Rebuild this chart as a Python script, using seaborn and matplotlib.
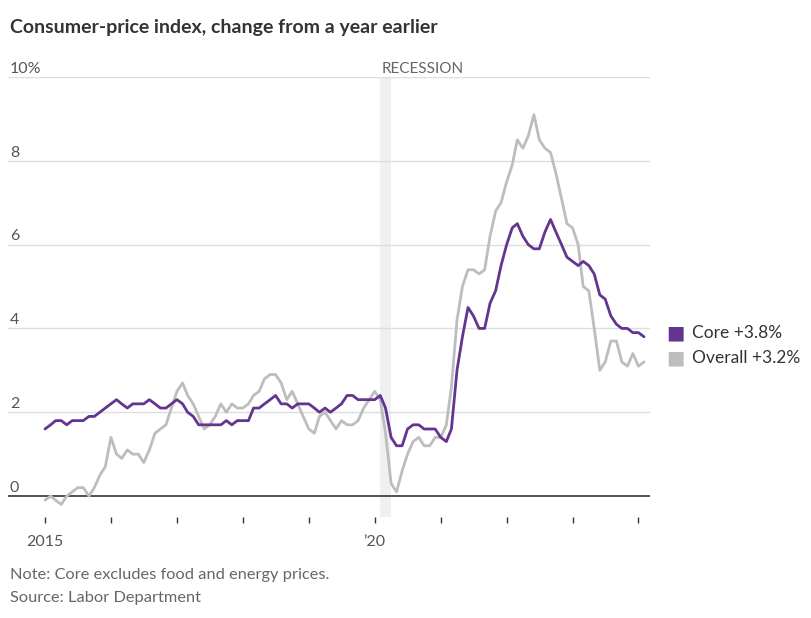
import pandas as pd
import matplotlib
matplotlib.use("Agg")
import matplotlib.pyplot as plt
import matplotlib.ticker as mticker
import seaborn as sns

# monthly year-over-year change, Jan 2015 - Feb 2024
core = [
    1.6, 1.7, 1.8, 1.8, 1.7, 1.8, 1.8, 1.8, 1.9, 1.9, 2.0, 2.1,
    2.2, 2.3, 2.2, 2.1, 2.2, 2.2, 2.2, 2.3, 2.2, 2.1, 2.1, 2.2,
    2.3, 2.2, 2.0, 1.9, 1.7, 1.7, 1.7, 1.7, 1.7, 1.8, 1.7, 1.8,
    1.8, 1.8, 2.1, 2.1, 2.2, 2.3, 2.4, 2.2, 2.2, 2.1, 2.2, 2.2,
    2.2, 2.1, 2.0, 2.1, 2.0, 2.1, 2.2, 2.4, 2.4, 2.3, 2.3, 2.3,
    2.3, 2.4, 2.1, 1.4, 1.2, 1.2, 1.6, 1.7, 1.7, 1.6, 1.6, 1.6,
    1.4, 1.3, 1.6, 3.0, 3.8, 4.5, 4.3, 4.0, 4.0, 4.6, 4.9, 5.5,
    6.0, 6.4, 6.5, 6.2, 6.0, 5.9, 5.9, 6.3, 6.6, 6.3, 6.0, 5.7,
    5.6, 5.5, 5.6, 5.5, 5.3, 4.8, 4.7, 4.3, 4.1, 4.0, 4.0, 3.9,
    3.9, 3.8,
]
overall = [
    -0.1, 0.0, -0.1, -0.2, 0.0, 0.1, 0.2, 0.2, 0.0, 0.2, 0.5, 0.7,
    1.4, 1.0, 0.9, 1.1, 1.0, 1.0, 0.8, 1.1, 1.5, 1.6, 1.7, 2.1,
    2.5, 2.7, 2.4, 2.2, 1.9, 1.6, 1.7, 1.9, 2.2, 2.0, 2.2, 2.1,
    2.1, 2.2, 2.4, 2.5, 2.8, 2.9, 2.9, 2.7, 2.3, 2.5, 2.2, 1.9,
    1.6, 1.5, 1.9, 2.0, 1.8, 1.6, 1.8, 1.7, 1.7, 1.8, 2.1, 2.3,
    2.5, 2.3, 1.5, 0.3, 0.1, 0.6, 1.0, 1.3, 1.4, 1.2, 1.2, 1.4,
    1.4, 1.7, 2.6, 4.2, 5.0, 5.4, 5.4, 5.3, 5.4, 6.2, 6.8, 7.0,
    7.5, 7.9, 8.5, 8.3, 8.6, 9.1, 8.5, 8.3, 8.2, 7.7, 7.1, 6.5,
    6.4, 6.0, 5.0, 4.9, 4.0, 3.0, 3.2, 3.7, 3.7, 3.2, 3.1, 3.4,
    3.1, 3.2,
]
months = pd.date_range("2015-01-01", periods=len(core), freq="MS")
year_ticks = pd.date_range("2015-01-01", "2024-01-01", freq="YS")
year_labels = ["2015", "", "", "", "", "\u201920", "", "", "", ""]
y_ticks = [0, 2, 4, 6, 8, 10]
y_labels = ["0", "2", "4", "6", "8", "10%"]
legend_labels = ["Core +3.8%", "Overall +3.2%"]

purple = "#633590"
grey = "#bdbdbd"
text_col = "#555555"

df = pd.DataFrame({"month": months, "Core": core, "Overall": overall})
long = df.melt(id_vars="month", var_name="series", value_name="pct")

sns.set_style("white")
plt.rcParams["font.family"] = ["Lato", "DejaVu Sans"]

fig = plt.figure(figsize=(8.12, 6.18), dpi=100)
ax = fig.add_axes([8 / 812, 1 - 517 / 618, 642 / 812, 440 / 618])

ax.axvspan(pd.Timestamp("2020-02-01"), pd.Timestamp("2020-04-01"),
           color="#eef0f4", lw=0, zorder=0)

for t in y_ticks[1:]:
    ax.axhline(t, color="#dddddd", lw=1, zorder=1)
ax.axhline(0, color="#333333", lw=1.2, zorder=3)

sns.lineplot(data=long, x="month", y="pct", hue="series",
             palette={"Core": purple, "Overall": grey},
             hue_order=["Overall", "Core"],
             lw=2.0, legend=False, ax=ax, zorder=4)

ax.set_xlim(pd.Timestamp("2014-06-10"), pd.Timestamp("2024-03-05"))
ax.set_ylim(-0.5, 10)
ax.set_yticks([])
ax.set_xlabel("")
ax.set_ylabel("")
for s in ax.spines.values():
    s.set_visible(False)

ax.set_xticks(year_ticks)
ax.xaxis.set_major_formatter(mticker.FixedFormatter(year_labels))
ax.tick_params(axis="x", bottom=True, length=4, width=1, color="#333333",
               labelsize=11.5, labelcolor=text_col, pad=9)

for t, lab in zip(y_ticks, y_labels):
    ax.text(0.003, t + 0.1, lab, transform=ax.get_yaxis_transform(),
            ha="left", va="baseline", fontsize=11.5, color=text_col)

ax.text(pd.Timestamp("2020-02-06"), 10.1, "RECESSION", ha="left", va="baseline",
        fontsize=11, color="#666666")

fig.text(10 / 812, 1 - 27 / 618, "Consumer-price index, change from a year earlier",
         ha="left", va="center", fontsize=14, fontweight="bold", color="#333333")

# legend on the right
for i, (lab, col) in enumerate(zip(legend_labels, [purple, grey])):
    yy = 1 - (333 + 25 * i) / 618
    fig.text(666 / 812, yy, "\u25A0", ha="left", va="center", fontsize=14, color=col,
             family=["DejaVu Sans"])
    fig.text(692 / 812, yy, lab, ha="left", va="center", fontsize=12.5, color="#333333")

fig.text(10 / 812, 1 - 575 / 618, "Note: Core excludes food and energy prices.",
         ha="left", va="center", fontsize=11.8, color="#666666")
fig.text(10 / 812, 1 - 598 / 618, "Source: Labor Department",
         ha="left", va="center", fontsize=11.8, color="#666666")

fig.savefig("out.png", dpi=100)
